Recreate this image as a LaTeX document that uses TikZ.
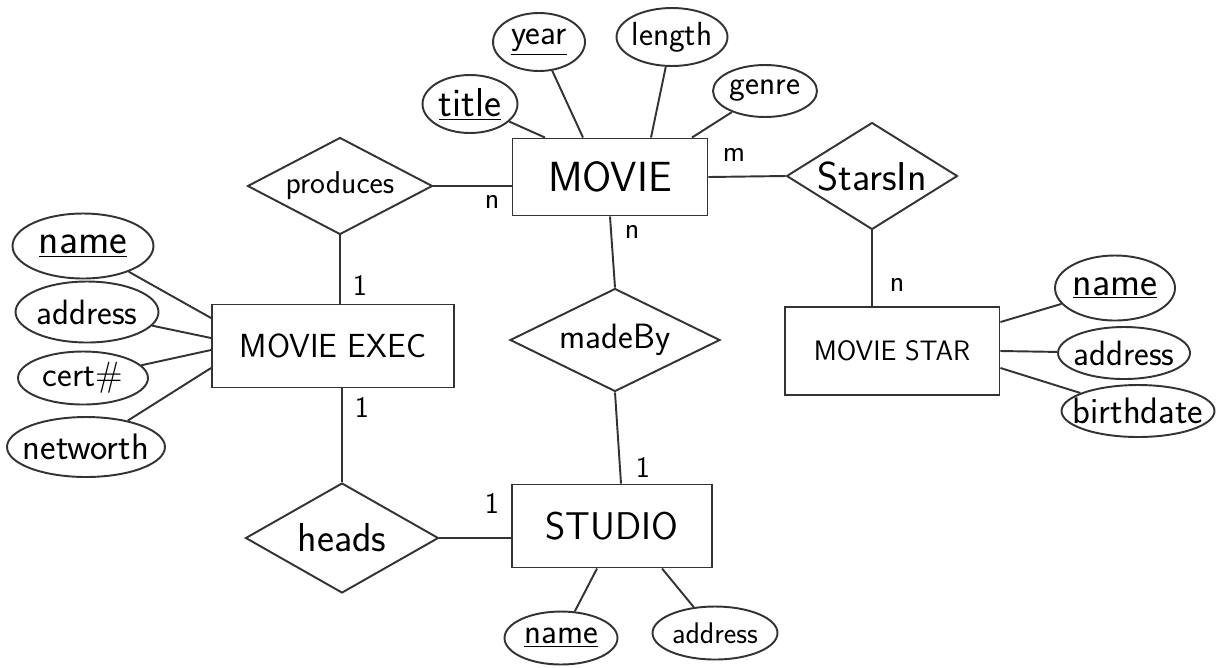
\documentclass[tikz,border=0pt]{standalone}
\usetikzlibrary{shapes.geometric}
\newcommand\lbl[1]{\makebox[0pt]{#1}}
\newcommand\fsz[1]{\sffamily\fontsize{#1}{#1}\selectfont}
\tikzset{
  pen/.style={draw=black!80, line width=1.1pt},
  entity/.style={pen, rectangle, inner sep=0pt},
  rel/.style={pen, diamond, aspect=1.9, inner sep=0pt},
  attr/.style={pen, ellipse, inner sep=0pt},
  card/.style={inner sep=0pt, font=\fsz{17}},
  conn/.style={draw=black!80, line width=1.1pt}
}
\begin{document}
\begin{tikzpicture}[x=0.02cm,y=-0.02cm]
\useasboundingbox (0,0) rectangle (1222,667);

% entities
\node[entity, minimum width=3.9cm, minimum height=1.54cm, font=\fsz{24}] (movie) at (610,177) {\lbl{MOVIE}};
\node[entity, minimum width=4.84cm, minimum height=1.66cm, font=\fsz{19}] (mexec) at (333,346) {\lbl{MOVIE EXEC}};
\node[entity, minimum width=4.3cm, minimum height=1.76cm, font=\fsz{16}] (mstar) at (892,351) {\lbl{MOVIE STAR}};
\node[entity, minimum width=4.0cm, minimum height=1.66cm, font=\fsz{22}] (studio) at (612,526) {\lbl{STUDIO}};

% relationships
\node[rel, minimum width=3.7cm, minimum height=1.94cm, font=\fsz{18}] (produces) at (340,186) {\lbl{produces}};
\node[rel, minimum width=3.42cm, minimum height=2.14cm, font=\fsz{23}] (starsin) at (872,176) {\lbl{StarsIn}};
\node[rel, minimum width=4.2cm, minimum height=2.06cm, font=\fsz{20}] (madeby) at (615,340) {\lbl{madeBy}};
\node[rel, minimum width=3.86cm, minimum height=2.2cm, font=\fsz{23}] (heads) at (342,538) {\lbl{heads}};

% MOVIE attributes
\node[attr, minimum width=1.9cm, minimum height=1.16cm, font=\fsz{23}] (title) at (470,104) {\lbl{\underline{title}}};
\node[attr, minimum width=1.84cm, minimum height=1.16cm, font=\fsz{20}] (year) at (539,42) {\lbl{\underline{year}}};
\node[attr, minimum width=2.22cm, minimum height=1.16cm, font=\fsz{19}] (length) at (672,37) {\lbl{length}};
\node[attr, minimum width=2.08cm, minimum height=1.04cm, font=\fsz{19}] (genre) at (765,91) {\lbl{genre}};

% MOVIE EXEC attributes
\node[attr, minimum width=2.82cm, minimum height=1.3cm, font=\fsz{24}] (mename) at (83,246) {\lbl{\underline{name}}};
\node[attr, minimum width=2.86cm, minimum height=1.22cm, font=\fsz{20}] (meaddr) at (87,312) {\lbl{address}};
\node[attr, minimum width=2.6cm, minimum height=1.06cm, font=\fsz{20}] (mecert) at (83,378) {\lbl{cert\#}};
\node[attr, minimum width=3.16cm, minimum height=1.2cm, font=\fsz{21}] (menet) at (86,447) {\lbl{networth}};

% MOVIE STAR attributes
\node[attr, minimum width=2.4cm, minimum height=1.3cm, font=\fsz{23}] (msname) at (1115,288) {\lbl{\underline{name}}};
\node[attr, minimum width=2.64cm, minimum height=1.04cm, font=\fsz{20}] (msaddr) at (1124,353) {\lbl{address}};
\node[attr, minimum width=3.06cm, minimum height=1.04cm, font=\fsz{21}] (msbirth) at (1138,411) {\lbl{birthdate}};

% STUDIO attributes
\node[attr, minimum width=2.26cm, minimum height=1.06cm, font=\fsz{20}] (stname) at (561,638) {\lbl{\underline{name}}};
\node[attr, minimum width=2.5cm, minimum height=1.06cm, font=\fsz{17}] (staddr) at (715,633) {\lbl{address}};

% relationship connectors
\draw[conn] (produces.east) -- (produces.east -| movie.west);
\draw[conn] (produces.south) -- (produces.south |- mexec.north);
\draw[conn] (movie.east) -- (starsin.west);
\draw[conn] (starsin.south) -- (starsin.south |- mstar.north);
\draw[conn] (movie.south) -- (madeby.north);
\draw[conn] (madeby.south) -- ([xshift=0.18cm]studio.north);
\draw[conn] (heads.north |- mexec.south) -- (heads.north);
\draw[conn] (heads.east) -- (heads.east -| studio.west);

% attribute connectors
\draw[conn] (title) -- ([xshift=-1.3cm]movie.north);
\draw[conn] (year) -- ([xshift=-0.54cm]movie.north);
\draw[conn] (length) -- ([xshift=0.82cm]movie.north);
\draw[conn] (genre) -- ([xshift=1.64cm]movie.north);
\draw[conn] (mename) -- ([yshift=0.56cm]mexec.west);
\draw[conn] (meaddr) -- ([yshift=0.16cm]mexec.west);
\draw[conn] (mecert) -- ([yshift=-0.08cm]mexec.west);
\draw[conn] (menet) -- ([yshift=-0.44cm]mexec.west);
\draw[conn] (msname) -- ([yshift=0.58cm]mstar.east);
\draw[conn] (msaddr) -- (mstar.east);
\draw[conn] (msbirth) -- ([yshift=-0.34cm]mstar.east);
\draw[conn] (stname) -- ([xshift=-0.3cm]studio.south);
\draw[conn] (staddr) -- ([xshift=1.0cm]studio.south);

% cardinalities
\node[card] (c1) at (734,155) {m};
\node[card] (c2) at (492,202) {n};
\node[card] (c3) at (632,232) {n};
\node[card] (c4) at (360,285) {1};
\node[card] (c5) at (897,285) {n};
\node[card] (c6) at (362,407) {1};
\node[card] (c7) at (643,467) {1};
\node[card] (c8) at (492,503) {1};
\end{tikzpicture}
\end{document}
